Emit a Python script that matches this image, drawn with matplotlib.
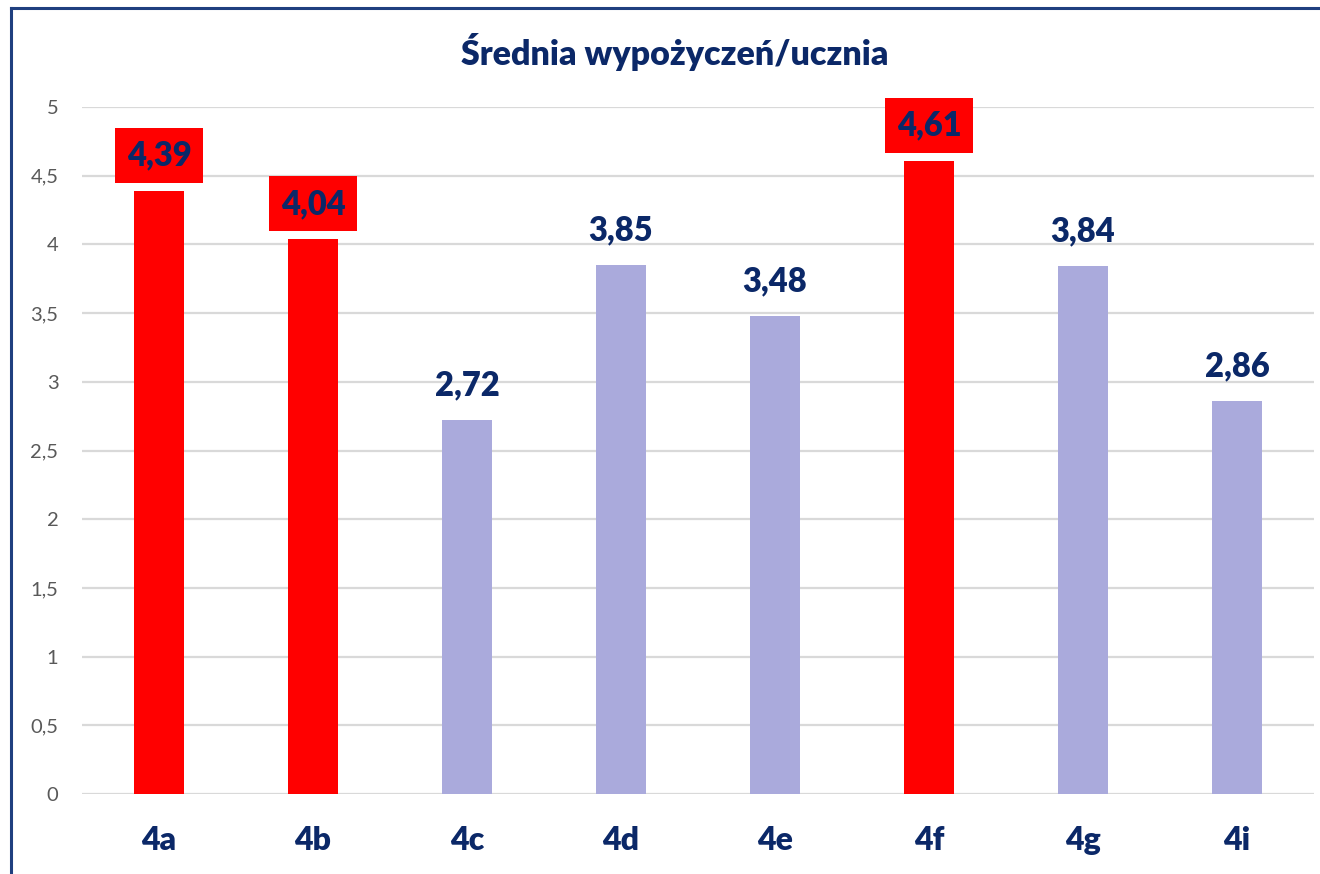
import matplotlib
matplotlib.use("Agg")
import matplotlib.pyplot as plt
from matplotlib.lines import Line2D

categories = ["4a", "4b", "4c", "4d", "4e", "4f", "4g", "4i"]
values = [4.39, 4.04, 2.72, 3.85, 3.48, 4.61, 3.84, 2.86]
highlighted = [True, True, False, False, False, True, False, False]
yticks = [0, 0.5, 1, 1.5, 2, 2.5, 3, 3.5, 4, 4.5, 5]

NAVY = "#0B2868"
RED = "#FF0000"
LAVENDER = "#AAAADC"
GRID = "#D9D9D9"
TICK = "#595959"

plt.rcParams["font.family"] = ["Lato", "DejaVu Sans"]

W, H = 1320, 874
fig = plt.figure(figsize=(W / 100, H / 100), dpi=100)
ax = fig.add_axes([82 / W, 80 / H, (1314 - 82) / W, (767 - 80) / H])

x = list(range(len(categories)))
colors = [RED if h else LAVENDER for h in highlighted]
ax.bar(x, values, width=0.32, color=colors, zorder=3)

ax.set_xlim(-0.5, len(categories) - 0.5)
ax.set_ylim(0, 5)
ax.set_yticks(yticks)
ax.set_yticklabels([f"{t:g}".replace(".", ",") for t in yticks],
                   fontsize=14.5, color=TICK)
ax.set_xticks(x)
ax.set_xticklabels(categories, fontsize=23, fontweight="heavy", color=NAVY)
ax.tick_params(axis="both", length=0)
ax.tick_params(axis="y", pad=17)
ax.tick_params(axis="x", pad=23)
for s in ax.spines.values():
    s.set_visible(False)
ax.yaxis.grid(True, color=GRID, linewidth=1.6, zorder=0)

for xi, v, h in zip(x, values, highlighted):
    label = f"{v:.2f}".replace(".", ",")
    kw = dict(ha="center", va="center", fontsize=23.5, fontweight="heavy",
              color=NAVY, zorder=4)
    if h:
        kw["bbox"] = dict(boxstyle="square,pad=0.35", facecolor=RED,
                          edgecolor="none")
    ax.annotate(label, (xi, v), xytext=(0, 35), textcoords="offset pixels", **kw)

fig.text(675 / W, 1 - 52 / H, "Średnia wypożyczeń/ucznia", ha="center",
         va="center", fontsize=24.5, fontweight="heavy", color=NAVY)

# outer frame (top and left edges)
fx, fy = 11 / W, 1 - 8 / H
fig.add_artist(Line2D([fx, 1.0], [fy, fy], color="#1F3F7F", linewidth=2.2,
                      transform=fig.transFigure))
fig.add_artist(Line2D([fx, fx], [fy, 0.0], color="#1F3F7F", linewidth=2.2,
                      transform=fig.transFigure))

fig.savefig("out.png", dpi=100)
